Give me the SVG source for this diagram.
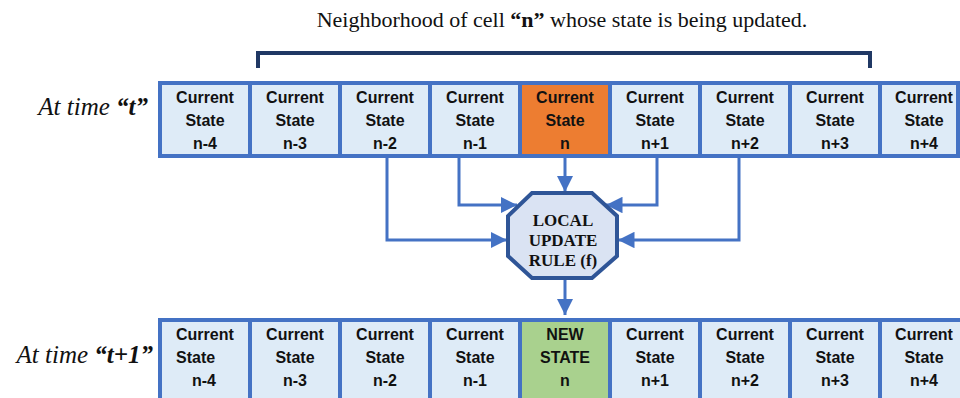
<svg xmlns="http://www.w3.org/2000/svg" width="960" height="398" viewBox="0 0 960 398">
  <style>
    .cell { fill: #DEEBF7; stroke: #4472C4; stroke-width: 4; }
    .cur { fill: #ED7D31; }
    .new { fill: #A9D18E; }
    .ct { font-family: "Liberation Sans", Arial, sans-serif; font-weight: bold; font-size: 16px; fill: #111; text-anchor: middle; }
    .lft { text-anchor: start; }
    .lbl { font-family: "Liberation Serif", "Times New Roman", serif; font-style: italic; font-size: 25px; fill: #111; text-anchor: end; }
    .title { font-family: "Liberation Serif", "Times New Roman", serif; font-size: 22px; fill: #111; text-anchor: middle; }
    .rule { font-family: "Liberation Serif", "Times New Roman", serif; font-weight: bold; font-size: 17px; fill: #111; text-anchor: middle; }
    .wire { fill: none; stroke: #4472C4; stroke-width: 3; }
  </style>
  <defs>
    <marker id="arrow" viewBox="0 0 10 10" refX="10" refY="5" markerWidth="5.5" markerHeight="5.5" markerUnits="strokeWidth" orient="auto">
      <path d="M0,0 L10,5 L0,10 z" fill="#4472C4"/>
    </marker>
  </defs>

  <rect width="960" height="398" fill="#ffffff"/>

  <!-- heading and neighbourhood bracket -->
  <text class="title" x="562" y="27">Neighborhood of cell <tspan font-weight="bold">“n”</tspan> whose state is being updated.</text>
  <path d="M258,68 V53 H870 V68" fill="none" stroke="#203864" stroke-width="4"/>

  <!-- row labels -->
  <text class="lbl" x="148" y="115">At time <tspan font-weight="bold">“t”</tspan></text>
  <text class="lbl" x="153" y="363">At time <tspan font-weight="bold">“t+1”</tspan></text>

  <!-- row at time t -->
  <g id="row-t">
    <g id="t-n-4"><rect class="cell" x="160" y="83" width="90" height="73"/><text class="ct" x="205" y="103">Current<tspan x="205" dy="23">State</tspan><tspan x="205" dy="23">n-4</tspan></text></g>
    <g id="t-n-3"><rect class="cell" x="250" y="83" width="90" height="73"/><text class="ct" x="295" y="103">Current<tspan x="295" dy="23">State</tspan><tspan x="295" dy="23">n-3</tspan></text></g>
    <g id="t-n-2"><rect class="cell" x="340" y="83" width="90" height="73"/><text class="ct" x="385" y="103">Current<tspan x="385" dy="23">State</tspan><tspan x="385" dy="23">n-2</tspan></text></g>
    <g id="t-n-1"><rect class="cell" x="430" y="83" width="90" height="73"/><text class="ct" x="475" y="103">Current<tspan x="475" dy="23">State</tspan><tspan x="475" dy="23">n-1</tspan></text></g>
    <g id="t-n"><rect class="cell cur" x="520" y="83" width="90" height="73"/><text class="ct" x="565" y="103">Current<tspan x="565" dy="23">State</tspan><tspan x="565" dy="23">n</tspan></text></g>
    <g id="t-n+1"><rect class="cell" x="610" y="83" width="90" height="73"/><text class="ct" x="655" y="103">Current<tspan x="655" dy="23">State</tspan><tspan x="655" dy="23">n+1</tspan></text></g>
    <g id="t-n+2"><rect class="cell" x="700" y="83" width="90" height="73"/><text class="ct" x="745" y="103">Current<tspan x="745" dy="23">State</tspan><tspan x="745" dy="23">n+2</tspan></text></g>
    <g id="t-n+3"><rect class="cell" x="790" y="83" width="90" height="73"/><text class="ct" x="835" y="103">Current<tspan x="835" dy="23">State</tspan><tspan x="835" dy="23">n+3</tspan></text></g>
    <g id="t-n+4"><rect class="cell" x="880" y="83" width="78" height="73"/><text class="ct" x="924" y="103">Current<tspan x="924" dy="23">State</tspan><tspan x="924" dy="23">n+4</tspan></text></g>
  </g>

  <!-- row at time t+1 -->
  <g id="row-t1">
    <g id="t1-n-4"><rect class="cell" x="160" y="320" width="90" height="90"/><text class="ct lft" x="176" y="340">Current</text><text class="ct lft" x="176" y="363">State</text><text class="ct" x="204" y="386">n-4</text></g>
    <g id="t1-n-3"><rect class="cell" x="250" y="320" width="90" height="90"/><text class="ct" x="295" y="340">Current<tspan x="295" dy="23">State</tspan><tspan x="295" dy="23">n-3</tspan></text></g>
    <g id="t1-n-2"><rect class="cell" x="340" y="320" width="90" height="90"/><text class="ct" x="385" y="340">Current<tspan x="385" dy="23">State</tspan><tspan x="385" dy="23">n-2</tspan></text></g>
    <g id="t1-n-1"><rect class="cell" x="430" y="320" width="90" height="90"/><text class="ct" x="475" y="340">Current<tspan x="475" dy="23">State</tspan><tspan x="475" dy="23">n-1</tspan></text></g>
    <g id="t1-n"><rect class="cell new" x="520" y="320" width="90" height="90"/><text class="ct" x="565" y="340">NEW<tspan x="565" dy="23">STATE</tspan><tspan x="565" dy="23">n</tspan></text></g>
    <g id="t1-n+1"><rect class="cell" x="610" y="320" width="90" height="90"/><text class="ct" x="655" y="340">Current<tspan x="655" dy="23">State</tspan><tspan x="655" dy="23">n+1</tspan></text></g>
    <g id="t1-n+2"><rect class="cell" x="700" y="320" width="90" height="90"/><text class="ct" x="745" y="340">Current<tspan x="745" dy="23">State</tspan><tspan x="745" dy="23">n+2</tspan></text></g>
    <g id="t1-n+3"><rect class="cell" x="790" y="320" width="90" height="90"/><text class="ct" x="835" y="340">Current<tspan x="835" dy="23">State</tspan><tspan x="835" dy="23">n+3</tspan></text></g>
    <g id="t1-n+4"><rect class="cell" x="880" y="320" width="90" height="90"/><text class="ct" x="924" y="340">Current<tspan x="924" dy="23">State</tspan><tspan x="924" dy="23">n+4</tspan></text></g>
  </g>

  <!-- connectors into and out of the rule -->
  <g id="connectors">
    <path class="wire" d="M565,158 V192" marker-end="url(#arrow)"/>
    <path class="wire" d="M459,158 V205 H517" marker-end="url(#arrow)"/>
    <path class="wire" d="M657,158 V205 H606" marker-end="url(#arrow)"/>
    <path class="wire" d="M387,158 V240 H507" marker-end="url(#arrow)"/>
    <path class="wire" d="M739,158 V240 H618" marker-end="url(#arrow)"/>
    <path class="wire" d="M565,280 V315" marker-end="url(#arrow)"/>
  </g>

  <!-- local update rule -->
  <g id="rule">
    <polygon points="532,193 592,193 617,216 617,256 592,278 532,278 508,256 508,216" fill="#DAE3F3" stroke="#2F5597" stroke-width="4"/>
    <text class="rule" x="563" y="225.5">LOCAL</text>
    <text class="rule" x="563" y="246">UPDATE</text>
    <text class="rule" x="563" y="266">RULE (f)</text>
  </g>
</svg>
